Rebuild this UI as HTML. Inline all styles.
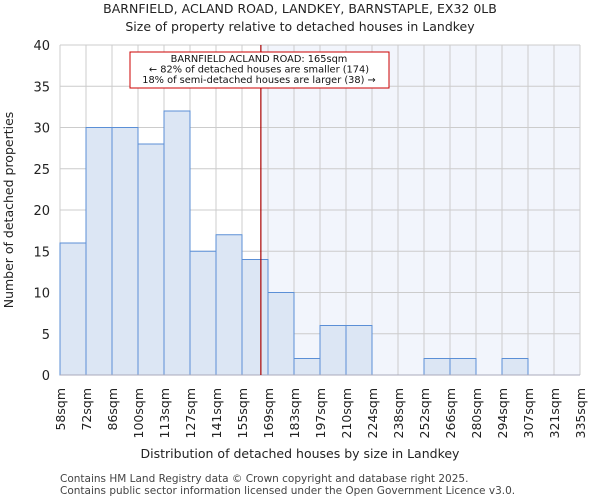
<!DOCTYPE html>
<html><head><meta charset="utf-8"><style>body{margin:0;background:#fff}svg{display:block;font-family:"DejaVu Sans","Liberation Sans",sans-serif}</style></head>
<body>
<svg id="chart" width="600" height="500" xmlns="http://www.w3.org/2000/svg">
<text x="300" y="13" text-anchor="middle" font-size="12.5" fill="#222">BARNFIELD, ACLAND ROAD, LANDKEY, BARNSTAPLE, EX32 0LB</text>
<text x="300" y="31" text-anchor="middle" font-size="12.5" fill="#222">Size of property relative to detached houses in Landkey</text>
<g id="plot"></g>
<text x="300" y="458" text-anchor="middle" font-size="12.5" fill="#222">Distribution of detached houses by size in Landkey</text>
<text transform="translate(13,210) rotate(-90)" text-anchor="middle" font-size="12.5" fill="#222">Number of detached properties</text>
<text x="60" y="482" font-size="10.5" fill="#444">Contains HM Land Registry data © Crown copyright and database right 2025.</text>
<text x="60" y="494" font-size="10.5" fill="#444">Contains public sector information licensed under the Open Government Licence v3.0.</text>
</svg>
<script>
const binLabels=["58sqm","72sqm","86sqm","100sqm","113sqm","127sqm","141sqm","155sqm","169sqm","183sqm","197sqm","210sqm","224sqm","238sqm","252sqm","266sqm","280sqm","294sqm","307sqm","321sqm","335sqm"];
const counts=[16,30,30,28,32,15,17,14,10,2,6,6,0,0,2,2,0,2,0,0];
const yTicks=[0,5,10,15,20,25,30,35,40];
const markerValue=165;
const NS="http://www.w3.org/2000/svg";
const L=60,R=580,T=45,B=375,yMax=40;
const bw=(R-L)/counts.length;
const xIdx=i=>L+i*bw;
const y=v=>B-(v/yMax)*(B-T);
const startSqm=58,binSqm=(335-58)/20;
const xVal=v=>L+(v-startSqm)/binSqm*bw;
const g=document.getElementById('plot');
function mk(t,a){const e=document.createElementNS(NS,t);for(const k in a)e.setAttribute(k,a[k]);g.appendChild(e);return e;}
const mx=xVal(markerValue);
let e=mk('rect',{x:mx,y:T,width:R-mx,height:B-T,fill:'#f2f5fc'});


yTicks.forEach(t=>{const l=mk('line',{x1:L,x2:R,y1:y(t),y2:y(t),stroke:'#ccc','stroke-width':1});


const tx=mk('text',{x:L-10,y:y(t)+5,'text-anchor':'end','font-size':13,fill:'#222'});tx.textContent=t;

});
binLabels.forEach((s,i)=>{const l=mk('line',{x1:xIdx(i),x2:xIdx(i),y1:T,y2:B,stroke:'#ccc','stroke-width':1});


const tx=mk('text',{transform:`translate(${xIdx(i)+5},388) rotate(-90)`,'text-anchor':'end','font-size':12.5,fill:'#222'});tx.textContent=s;

});
counts.forEach((c,i)=>{if(!c)return;const r=mk('rect',{x:xIdx(i),y:y(c),width:bw,height:B-y(c),fill:'#dce6f4',stroke:'#5b8fd6','stroke-width':1});

});
e=mk('line',{x1:L,x2:R,y1:B,y2:B,stroke:'#aab','stroke-width':1});


e=mk('line',{x1:mx,x2:mx,y1:T,y2:B,stroke:'#a00','stroke-width':1.2});


e=mk('rect',{x:130,y:52,width:259,height:36,fill:'#fff',stroke:'#c00','stroke-width':1});


["BARNFIELD ACLAND ROAD: 165sqm","← 82% of detached houses are smaller (174)","18% of semi-detached houses are larger (38) →"].forEach((s,i)=>{const tx=mk('text',{x:259,y:62+i*10.5,'text-anchor':'middle','font-size':9.8,fill:'#111'});tx.textContent=s;

});
</script>
</body></html>
